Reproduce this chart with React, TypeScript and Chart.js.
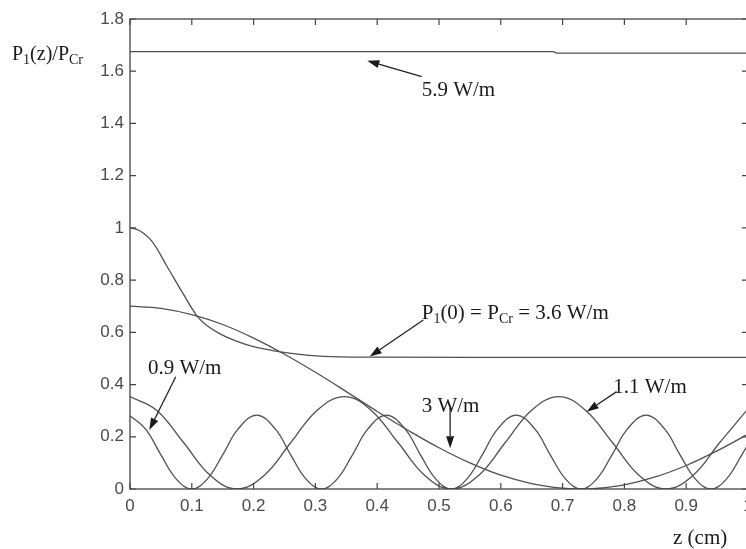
import React, { useEffect, useRef } from "react";
import { Chart, registerables } from "chart.js";

Chart.register(...registerables);

// ---- data (z in cm, P1(z)/PCr) ----
const z59 = [0, 0.686, 0.69, 1.0];
const p59 = [1.675, 1.675, 1.669, 1.669];

const z36 = [0, 0.015, 0.035, 0.06, 0.085, 0.108, 0.125, 0.145, 0.17, 0.2, 0.246, 0.29, 0.34, 0.4, 0.7, 1.0];
const p36 = [1.0, 0.99, 0.95, 0.852, 0.752, 0.664, 0.625, 0.595, 0.568, 0.545, 0.524, 0.512, 0.506, 0.505, 0.504, 0.504];

const z30 = [0, 0.05, 0.1, 0.15, 0.2, 0.25, 0.3, 0.35, 0.4, 0.45, 0.5, 0.55, 0.6, 0.65, 0.7, 0.73, 0.75, 0.8, 0.85, 0.9, 0.95, 1.0];
const p30 = [0.7, 0.692, 0.668, 0.63, 0.578, 0.516, 0.447, 0.373, 0.297, 0.225, 0.158, 0.1, 0.053, 0.021, 0.003, 0, 0.001, 0.016, 0.046, 0.09, 0.146, 0.21];

const z11 = [0, 0.043, 0.087, 0.13, 0.173, 0.217, 0.26, 0.303, 0.347, 0.39, 0.434, 0.477, 0.52, 0.564, 0.607, 0.65, 0.694, 0.737, 0.781, 0.824, 0.867, 0.911, 0.954, 1.0];
const p11 = [0.354, 0.302, 0.177, 0.052, 0, 0.052, 0.177, 0.302, 0.354, 0.302, 0.177, 0.052, 0, 0.052, 0.177, 0.302, 0.354, 0.302, 0.177, 0.052, 0, 0.052, 0.177, 0.307];

const z09 = [0, 0.025, 0.05, 0.075, 0.1, 0.125, 0.15, 0.175, 0.205, 0.235, 0.26, 0.285, 0.31, 0.335, 0.36, 0.385, 0.415, 0.445, 0.47, 0.495, 0.52, 0.545, 0.57, 0.595, 0.625, 0.655, 0.68, 0.705, 0.73, 0.755, 0.78, 0.805, 0.835, 0.865, 0.89, 0.915, 0.94, 0.965, 0.99, 1.015];
const p09 = [0.281, 0.23, 0.131, 0.038, 0, 0.038, 0.131, 0.23, 0.283, 0.23, 0.131, 0.038, 0, 0.038, 0.131, 0.23, 0.283, 0.23, 0.131, 0.038, 0, 0.038, 0.131, 0.23, 0.283, 0.23, 0.131, 0.038, 0, 0.038, 0.131, 0.23, 0.283, 0.23, 0.131, 0.038, 0, 0.038, 0.131, 0.23];

const xTickValues = [0, 0.1, 0.2, 0.3, 0.4, 0.5, 0.6, 0.7, 0.8, 0.9, 1];
const yTickValues = [0, 0.2, 0.4, 0.6, 0.8, 1, 1.2, 1.4, 1.6, 1.8];

type Part = { t: string; sub?: boolean };

// annotations: text anchor (left, baseline) and arrow tail/tip, in data units
const annotations: { parts: Part[]; at: [number, number]; from: [number, number]; to: [number, number] }[] = [
  { parts: [{ t: "5.9 W/m" }], at: [0.472, 1.506], from: [0.472, 1.579], to: [0.384, 1.640] },
  {
    parts: [{ t: "P" }, { t: "1", sub: true }, { t: "(0) = P" }, { t: "Cr", sub: true }, { t: " = 3.6 W/m" }],
    at: [0.472, 0.65], from: [0.4746, 0.6475], to: [0.388, 0.507],
  },
  { parts: [{ t: "3 W/m" }], at: [0.472, 0.296], from: [0.518, 0.31], to: [0.518, 0.156] },
  { parts: [{ t: "1.1 W/m" }], at: [0.782, 0.367], from: [0.7875, 0.373], to: [0.739, 0.296] },
  { parts: [{ t: "0.9 W/m" }], at: [0.029, 0.4406], from: [0.074, 0.43], to: [0.0312, 0.226] },
];

const SERIF = '"Liberation Serif", "Times New Roman", serif';
const MAIN_PX = 21;
const SUB_PX = 14;

function drawRich(ctx: CanvasRenderingContext2D, parts: Part[], x: number, y: number, size: number, subSize: number) {
  let cx = x;
  ctx.textAlign = "left";
  ctx.textBaseline = "alphabetic";
  for (const p of parts) {
    ctx.font = `${p.sub ? subSize : size}px ${SERIF}`;
    ctx.fillText(p.t, cx, p.sub ? y + 4 : y);
    cx += ctx.measureText(p.t).width;
  }
}

function arrow(ctx: CanvasRenderingContext2D, x1: number, y1: number, x2: number, y2: number) {
  const ang = Math.atan2(y2 - y1, x2 - x1);
  const len = 12;
  const hw = 4;
  const bx = x2 - len * Math.cos(ang);
  const by = y2 - len * Math.sin(ang);
  ctx.beginPath();
  ctx.moveTo(x1, y1);
  ctx.lineTo(bx, by);
  ctx.stroke();
  ctx.beginPath();
  ctx.moveTo(x2, y2);
  ctx.lineTo(bx + hw * Math.sin(ang), by - hw * Math.cos(ang));
  ctx.lineTo(bx - hw * Math.sin(ang), by + hw * Math.cos(ang));
  ctx.closePath();
  ctx.fill();
}

const framePlugin = {
  id: "matlabFrame",
  afterDraw(chart: any) {
    const { ctx, chartArea } = chart;
    const xs = chart.scales.x;
    const ys = chart.scales.y;
    const { left, right, top, bottom } = chartArea;
    ctx.save();
    ctx.strokeStyle = "#444";
    ctx.lineWidth = 1.3;
    ctx.strokeRect(left, top, right - left, bottom - top);
    ctx.lineWidth = 1.2;
    ctx.beginPath();
    for (const v of xTickValues) {
      const px = xs.getPixelForValue(v);
      ctx.moveTo(px, bottom);
      ctx.lineTo(px, bottom - 6);
      ctx.moveTo(px, top);
      ctx.lineTo(px, top + 6);
    }
    for (const v of yTickValues) {
      const py = ys.getPixelForValue(v);
      ctx.moveTo(left, py);
      ctx.lineTo(left + 6, py);
      ctx.moveTo(right, py);
      ctx.lineTo(right - 6, py);
    }
    ctx.stroke();

    // annotations
    ctx.fillStyle = "#1a1a1a";
    ctx.strokeStyle = "#222";
    ctx.lineWidth = 1.3;
    for (const a of annotations) {
      drawRich(ctx, a.parts, xs.getPixelForValue(a.at[0]), ys.getPixelForValue(a.at[1]), MAIN_PX, SUB_PX);
      arrow(
        ctx,
        xs.getPixelForValue(a.from[0]), ys.getPixelForValue(a.from[1]),
        xs.getPixelForValue(a.to[0]), ys.getPixelForValue(a.to[1])
      );
    }

    // axis titles
    ctx.fillStyle = "#1a1a1a";
    drawRich(ctx, [{ t: "P" }, { t: "1", sub: true }, { t: "(z)/P" }, { t: "Cr", sub: true }], 12, 60, 20, 14);
    drawRich(ctx, [{ t: "z (cm)" }], 673, 544, 21, 14);
    ctx.restore();
  },
};

function toPts(zs: number[], ps: number[]) {
  return zs.map((v, i) => ({ x: v, y: ps[i] }));
}

export default function App() {
  const ref = useRef<HTMLCanvasElement | null>(null);
  useEffect(() => {
    const canvas = ref.current;
    if (!canvas) return;
    const line = (zs: number[], ps: number[], label: string, tension: number) => ({
      label,
      data: toPts(zs, ps),
      borderColor: "#505050",
      borderWidth: 1.3,
      pointRadius: 0,
      fill: false,
      tension,
      cubicInterpolationMode: "default",
    });
    const chart = new Chart(canvas, {
      type: "line",
      data: {
        datasets: [
          line(z59, p59, "5.9 W/m", 0),
          line(z36, p36, "3.6 W/m", 0.4),
          line(z30, p30, "3 W/m", 0.4),
          line(z11, p11, "1.1 W/m", 0.4),
          line(z09, p09, "0.9 W/m", 0.4),
        ] as any,
      },
      options: {
        animation: false,
        responsive: false,
        devicePixelRatio: 1,
        layout: { padding: { left: 0, right: 12, top: 19, bottom: 0 } },
        plugins: { legend: { display: false }, tooltip: { enabled: false } },
        scales: {
          x: {
            type: "linear",
            min: 0,
            max: 1,
            afterBuildTicks: (s: any) => {
              s.ticks = xTickValues.map((v) => ({ value: v }));
            },
            afterFit: (s: any) => {
              s.height = 60;
            },
            grid: { display: false, drawTicks: false },
            border: { display: false },
            ticks: {
              padding: 7,
              color: "#4a4a4a",
              font: { family: '"Liberation Sans", Arial, sans-serif', size: 17 },
              callback: (v: any) => String(Math.round(Number(v) * 10) / 10),
              maxRotation: 0,
              autoSkip: false,
            },
          },
          y: {
            type: "linear",
            min: 0,
            max: 1.8,
            afterBuildTicks: (s: any) => {
              s.ticks = yTickValues.map((v) => ({ value: v }));
            },
            afterFit: (s: any) => {
              s.width = 130;
            },
            grid: { display: false, drawTicks: false },
            border: { display: false },
            ticks: {
              padding: 6,
              color: "#4a4a4a",
              font: { family: '"Liberation Sans", Arial, sans-serif', size: 17 },
              callback: (v: any) => String(Math.round(Number(v) * 10) / 10),
              autoSkip: false,
            },
          },
        },
      } as any,
      plugins: [framePlugin],
    });
    return () => chart.destroy();
  }, []);
  return (
    <div style={{ position: "absolute", left: 0, top: 0, width: 746, height: 549, overflow: "hidden", background: "#fff" }}>
      <canvas ref={ref} width={760} height={549} style={{ width: 760, height: 549, display: "block" }} />
    </div>
  );
}
